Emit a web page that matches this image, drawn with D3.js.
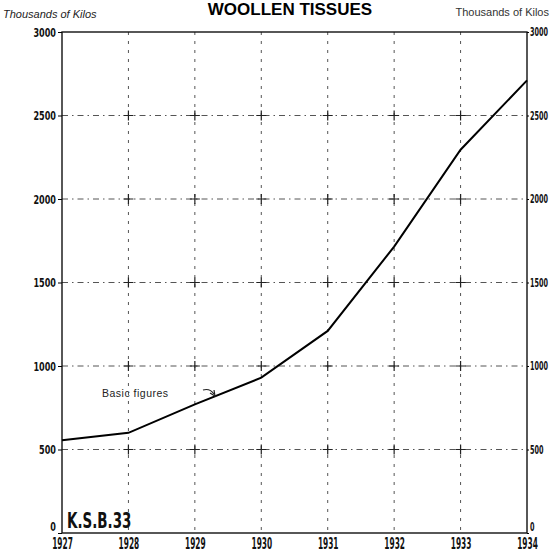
<!DOCTYPE html>
<html>
<head>
<meta charset="utf-8">
<script src="https://cdn.jsdelivr.net/npm/d3@7"></script>
<style>
  body { margin: 0; background: #fff; }
  .num { font-family: "DejaVu Sans Condensed", "DejaVu Sans", sans-serif; font-weight: bold; fill: #111; }
</style>
</head>
<body>
<div id="chart"></div>
<script>
// data
const years = [1927, 1928, 1929, 1930, 1931, 1932, 1933, 1934];
const values = [555, 600, 770, 930, 1210, 1715, 2295, 2710];
const yTicks = [0, 500, 1000, 1500, 2000, 2500, 3000];
const gridValues = [500, 1000, 1500, 2000, 2500];
const gridYears = [1928, 1929, 1930, 1931, 1932, 1933];

const width = 551;
const height = 559;
const margin = { top: 32, right: 24, bottom: 26, left: 62 };

const svg = d3.select('#chart')
  .append('svg')
  .attr('width', width)
  .attr('height', height);

const x = d3.scaleLinear()
  .domain([1927, 1934])
  .range([margin.left, width - margin.right]);

const y = d3.scaleLinear()
  .domain([0, 3000])
  .range([height - margin.bottom, margin.top]);

// titles
svg.append('text')
  .attr('x', 290).attr('y', 15)
  .attr('text-anchor', 'middle')
  .style('font-family', 'Liberation Sans, Arial, sans-serif')
  .style('font-weight', 'bold')
  .style('font-size', '17px')
  .text('WOOLLEN TISSUES');

svg.append('text')
  .attr('x', 3).attr('y', 18)
  .style('font-family', 'Liberation Sans, Arial, sans-serif')
  .style('font-style', 'italic')
  .style('font-size', '11px')
  .style('fill', '#222')
  .text('Thousands of Kilos');

svg.append('text')
  .attr('x', 549).attr('y', 16)
  .attr('text-anchor', 'end')
  .style('font-family', 'Liberation Sans, Arial, sans-serif')
  .style('font-size', '11px')
  .style('fill', '#333')
  .text('Thousands of Kilos');

// grid, dashed with little crosses at the crossings
const grid = svg.append('g');
grid.selectAll('line.h')
  .data(gridValues)
  .enter()
  .append('line')
  .attr('x1', x(1927)).attr('x2', x(1934))
  .attr('y1', d => y(d)).attr('y2', d => y(d))
  .attr('stroke', '#555')
  .attr('stroke-width', 1)
  .attr('stroke-dasharray', '6,4,1.5,4');

grid.selectAll('line.v')
  .data(gridYears)
  .enter()
  .append('line')
  .attr('x1', d => x(d)).attr('x2', d => x(d))
  .attr('y1', y(3000)).attr('y2', y(0))
  .attr('stroke', '#555')
  .attr('stroke-width', 1)
  .attr('stroke-dasharray', '3,6');

const crossings = [];
gridYears.forEach(yr => gridValues.forEach(v => crossings.push([yr, v])));
grid.selectAll('path.cross')
  .data(crossings)
  .enter()
  .append('path')
  .attr('d', d => `M${x(d[0]) - 5},${y(d[1])}h10M${x(d[0])},${y(d[1]) - 5}v10`)
  .attr('stroke', '#222')
  .attr('stroke-width', 1.2);

// frame
svg.append('rect')
  .attr('x', x(1927)).attr('y', y(3000))
  .attr('width', x(1934) - x(1927))
  .attr('height', y(0) - y(3000))
  .attr('fill', 'none')
  .attr('stroke', '#111')
  .attr('stroke-width', 1.4);

// axes (labels squeezed sideways to look like the narrow stencil digits)
const leftAxis = d3.axisLeft(y).tickValues(yTicks).tickSize(4).tickFormat(d3.format('d'));
const gl = svg.append('g').attr('transform', `translate(${x(1927)},0)`).call(leftAxis);
gl.select('.domain').remove();
gl.selectAll('text')
  .attr('class', 'num')
  .style('font-size', '12.5px')
  .attr('x', 0)
  .attr('dy', d => d === 0 ? '-0.2em' : '0.32em')
  .attr('transform', 'translate(-6,0) scale(0.72,1)');

const rightAxis = d3.axisRight(y).tickValues(yTicks).tickSize(2).tickFormat(d3.format('d'));
const gr = svg.append('g').attr('transform', `translate(${x(1934)},0)`).call(rightAxis);
gr.select('.domain').remove();
gr.selectAll('text')
  .attr('class', 'num')
  .style('font-size', '12px')
  .attr('x', 0)
  .attr('dy', d => d === 0 ? '-0.2em' : '0.32em')
  .attr('transform', 'translate(3,0) scale(0.6,1)');

const bottomAxis = d3.axisBottom(x).tickValues(years).tickSize(0).tickFormat(d3.format('d'));
const gb = svg.append('g').attr('transform', `translate(0,${y(0)})`).call(bottomAxis);
gb.select('.domain').remove();
gb.selectAll('text')
  .attr('class', 'num')
  .style('font-size', '16.5px')
  .attr('y', 4)
  .attr('transform', 'scale(0.5,1)');

// the series
const line = d3.line()
  .x((d, i) => x(years[i]))
  .y(d => y(d));

svg.append('path')
  .datum(values)
  .attr('d', line)
  .attr('fill', 'none')
  .attr('stroke', '#000')
  .attr('stroke-width', 2);

// annotation
svg.append('text')
  .attr('x', 102).attr('y', 397)
  .style('font-family', 'Liberation Sans, Arial, sans-serif')
  .style('font-size', '10.5px')
  .style('letter-spacing', '0.5px')
  .style('fill', '#222')
  .text('Basic figures');

svg.append('path')
  .attr('d', 'M203,390 Q210,388 214,394')
  .attr('fill', 'none')
  .attr('stroke', '#222')
  .attr('stroke-width', 1.2);
svg.append('path')
  .attr('d', 'M210,393 L215,396 L214,390')
  .attr('fill', 'none')
  .attr('stroke', '#222')
  .attr('stroke-width', 1.2);

// stamp
svg.append('text')
  .attr('x', 0).attr('y', 528)
  .attr('class', 'num')
  .style('font-size', '22px')
  .attr('transform', 'translate(67,0) scale(0.68,1)')
  .text('K.S.B.33');
</script>
</body>
</html>
